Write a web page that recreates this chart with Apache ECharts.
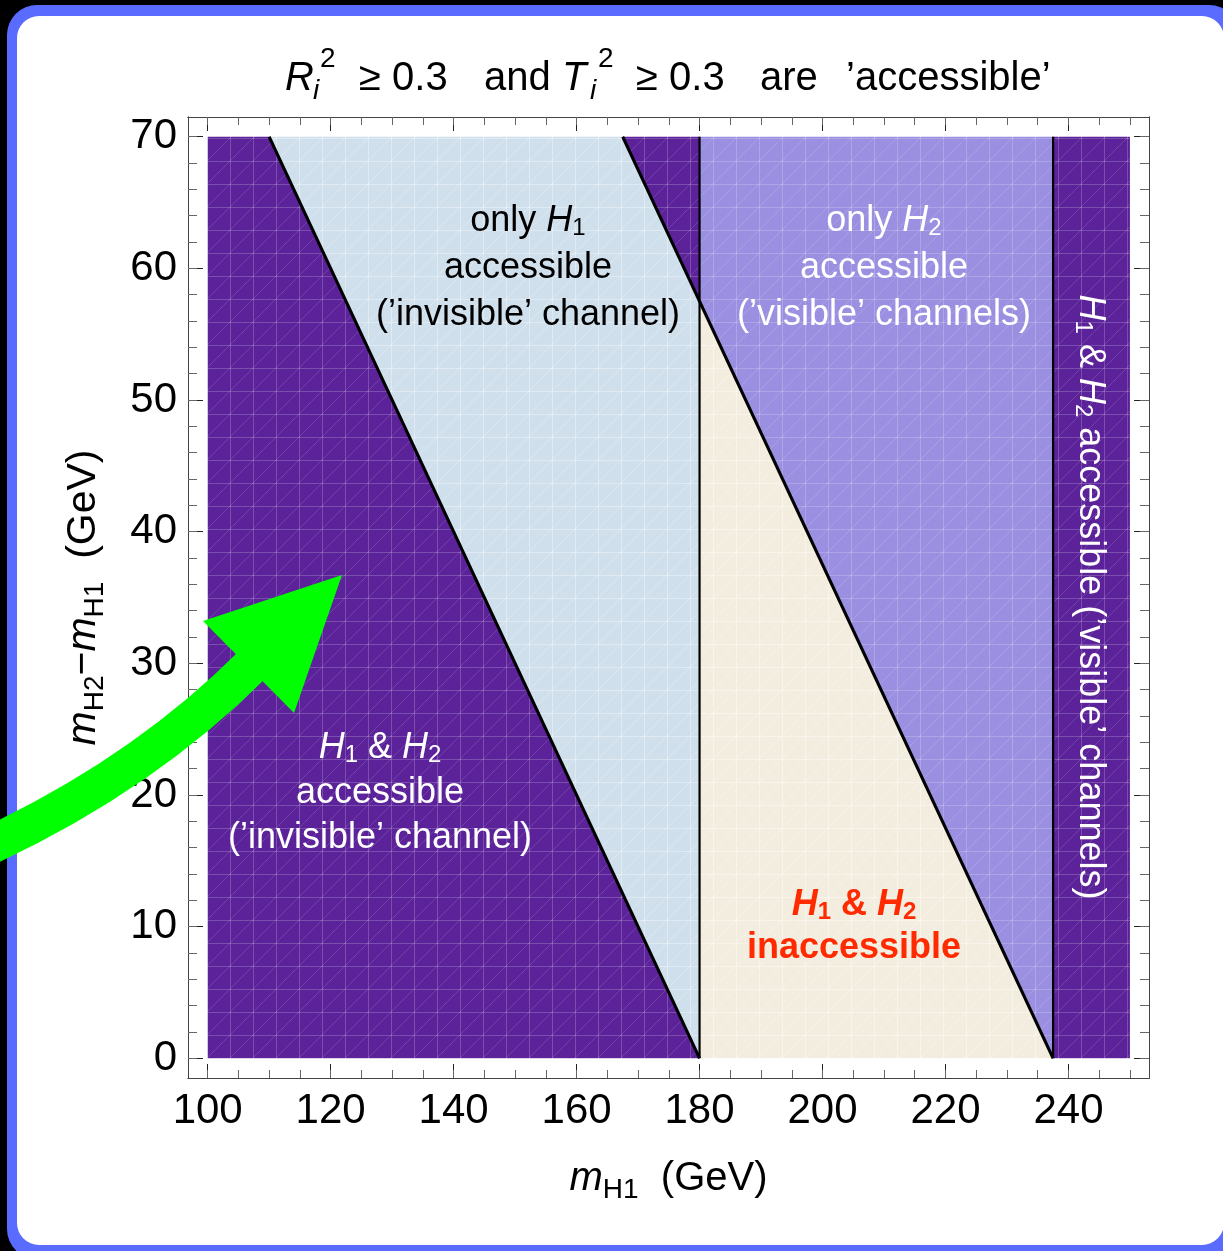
<!DOCTYPE html>
<html><head><meta charset="utf-8">
<script src="https://cdn.jsdelivr.net/npm/echarts@6/dist/echarts.min.js"></script>
<style>html,body{margin:0;padding:0;background:#000;}#c{width:1223px;height:1251px;}</style>
</head><body><div id="c"></div>
<script>
// ---------- data ----------
const xMajorTicks = [100, 120, 140, 160, 180, 200, 220, 240];
const xMinorTicks = [100, 105, 110, 115, 120, 125, 130, 135, 140, 145, 150, 155, 160, 165, 170, 175, 180, 185, 190, 195, 200, 205, 210, 215, 220, 225, 230, 235, 240, 245, 250];
const yMajorTicks = [0, 10, 20, 30, 40, 50, 60, 70];
const yMinorTicks = [0, 2, 4, 6, 8, 10, 12, 14, 16, 18, 20, 22, 24, 26, 28, 30, 32, 34, 36, 38, 40, 42, 44, 46, 48, 50, 52, 54, 56, 58, 60, 62, 64, 66, 68, 70];
const xRange = [96.8, 253.1];
const yRange = [-1.5, 71.5];

// regions (m_H1, m_H2 - m_H1) vertices
const regionBothInvisible = [[100, 0], [180, 0], [110, 70], [100, 70]];
const regionOnlyH1 = [[110, 70], [180, 0], [180, 57.5], [167.5, 70]];
const regionBothWedge = [[167.5, 70], [180, 57.5], [180, 70]];
const regionOnlyH2 = [[180, 57.5], [237.5, 0], [237.5, 70], [180, 70]];
const regionNone = [[180, 0], [237.5, 0], [180, 57.5]];
const regionBothVisible = [[237.5, 0], [250, 0], [250, 70], [237.5, 70]];

// boundary curves
const boundaryLow = [[110, 70], [180, 0]];
const boundaryHigh = [[167.5, 70], [237.5, 0]];
const edgeH1 = [[180, 0], [180, 70]];
const edgeH2 = [[237.5, 0], [237.5, 70]];

// ---------- styling ----------
const FONT = '"Liberation Sans", Arial, Helvetica, sans-serif';
const C_DARK = '#5b2299', C_LBLUE = '#cfdfeb', C_LPURP = '#9a8fe1', C_CREAM = '#f3eddf';

function mesh(base, line, diag) {
  const st = 23;
  const c = document.createElement('canvas');
  c.width = st; c.height = st;
  const g = c.getContext('2d');
  g.fillStyle = base; g.fillRect(0, 0, st, st);
  g.lineWidth = 1;
  g.strokeStyle = line;
  g.beginPath();
  g.moveTo(0.5, 0); g.lineTo(0.5, st);
  g.moveTo(0, 0.5); g.lineTo(st, 0.5);
  g.stroke();
  g.strokeStyle = diag;
  g.beginPath();
  g.moveTo(0, st); g.lineTo(st, 0);
  g.stroke();
  return { image: c, repeat: 'repeat' };
}

function regionSeries(verts, fill) {
  return {
    type: 'custom', silent: true, z: 2,
    data: verts,
    renderItem: function (params, api) {
      if (params.dataIndex !== 0) return null;
      return { type: 'polygon', shape: { points: verts.map(p => api.coord(p)) }, style: { fill: fill } };
    }
  };
}
function lineSeries(pts, w) {
  return { type: 'line', data: pts, symbol: 'none', silent: true, z: 4, animation: false,
    lineStyle: { color: '#000', width: w } };
}

function xAx(pos, ticks, len, col, label) {
  const a = {
    type: 'value', position: pos, min: xRange[0], max: xRange[1],
    axisLine: { show: true, onZero: false, lineStyle: { color: '#444', width: 1 } },
    axisTick: { show: true, inside: true, length: len, customValues: ticks, lineStyle: { color: col, width: 1 } },
    axisLabel: { show: false }, splitLine: { show: false }
  };
  if (label) {
    a.axisLabel = { show: true, customValues: ticks, margin: 12, fontSize: 42, lineHeight: 42, fontFamily: FONT, color: '#000' };
    a.name = '{i|m}{s|H1}{n|  (GeV)}';
    a.nameLocation = 'middle';
    a.nameGap = 76;
    a.nameTextStyle = { rich: {
      i: { fontFamily: FONT, fontSize: 40, lineHeight: 50, fontStyle: 'italic', color: '#000', verticalAlign: 'middle' },
      s: { fontFamily: FONT, fontSize: 28, lineHeight: 28, padding: [22, 0, 0, 0], color: '#000', verticalAlign: 'middle' },
      n: { fontFamily: FONT, fontSize: 40, lineHeight: 50, color: '#000', verticalAlign: 'middle' } } };
  }
  return a;
}
function yAx(pos, ticks, len, col, label) {
  const a = {
    type: 'value', position: pos, min: yRange[0], max: yRange[1],
    axisLine: { show: true, onZero: false, lineStyle: { color: '#444', width: 1 } },
    axisTick: { show: true, inside: true, length: len, customValues: ticks, lineStyle: { color: col, width: 1 } },
    axisLabel: { show: false }, splitLine: { show: false }
  };
  if (label) {
    a.axisLabel = { show: true, customValues: ticks, margin: 11, fontSize: 42, lineHeight: 42, fontFamily: FONT, color: '#000' };
    a.name = '{i|m}{s|H2}{n|−}{i|m}{s|H1}{n|  (GeV)}';
    a.nameLocation = 'middle';
    a.nameGap = 79;
    a.nameTextStyle = { rich: {
      i: { fontFamily: FONT, fontSize: 41, lineHeight: 50, fontStyle: 'italic', color: '#000', verticalAlign: 'middle' },
      s: { fontFamily: FONT, fontSize: 28, lineHeight: 28, padding: [22, 0, 0, 0], color: '#000', verticalAlign: 'middle' },
      n: { fontFamily: FONT, fontSize: 41, lineHeight: 50, color: '#000', verticalAlign: 'middle' } } };
  }
  return a;
}

function richSet(color, size, sub, pad, lh, bold) {
  const fw = bold ? 'bold' : 'normal';
  return {
    n: { fontFamily: FONT, fontSize: size, lineHeight: lh, fill: color, color: color, fontWeight: fw, verticalAlign: 'middle' },
    i: { fontFamily: FONT, fontSize: size, lineHeight: lh, fill: color, color: color, fontWeight: fw, fontStyle: 'italic', verticalAlign: 'middle' },
    s: { fontFamily: FONT, fontSize: sub, lineHeight: sub, fill: color, color: color, fontWeight: fw, padding: [pad, 0, 0, 0], verticalAlign: 'middle' }
  };
}
function label(x, y, text, color, lh, bold, rot) {
  return { type: 'text', x: x, y: y, z: 50, rotation: rot || 0,
    style: { text: text, rich: richSet(color, 36, 24, 14, lh, bold), textAlign: 'center', verticalAlign: 'middle', fill: color } };
}

// ---------- title laid out in runs ----------
const TS = 40, SS = 28, TBASE = 93, SUPBASE = 69, SUBBASE = 101;
const titleRuns = [
  { x: 285, t: 'R', it: true },
  { x: 320, sup: '2', sx: 313, sub: 'i' },
  { x: 359, t: '≥ 0.3' },
  { x: 484, t: 'and' },
  { x: 562, t: 'T', it: true },
  { x: 598, sup: '2', sx: 590, sub: 'i' },
  { x: 636, t: '≥ 0.3' },
  { x: 760, t: 'are' },
  { x: 846, t: '’accessible’' }
];
function tEl(x, base, size, text, it) {
  return { type: 'text', x: x, y: base - 0.35 * size, z: 50,
    style: { text: text, fontFamily: FONT, fontSize: size, fontStyle: it ? 'italic' : 'normal', fill: '#000', textAlign: 'left', verticalAlign: 'middle' } };
}
function titleElements() {
  const els = [];
  titleRuns.forEach(r => {
    if (r.sup) {
      els.push(tEl(r.x, SUPBASE, SS, r.sup, false));
      els.push(tEl(r.sx, SUBBASE, SS, r.sub, true));
    } else {
      els.push(tEl(r.x, TBASE, TS, r.t, r.it));
    }
  });
  return els;
}

const graphics = [
  { type: 'rect', z: -100, shape: { x: 7, y: 5, width: 1232, height: 1254, r: 30 }, style: { fill: '#5a6bff' } },
  { type: 'rect', z: -99, shape: { x: 17, y: 16, width: 1207, height: 1229, r: 22 }, style: { fill: '#ffffff' } },
  ...titleElements(),
  label(528, 268, '{n|only }{i|H}{s|1}\n{n|accessible}\n{n|(’invisible’ channel)}', '#000', 47),
  label(884, 268, '{n|only }{i|H}{s|2}\n{n|accessible}\n{n|(’visible’ channels)}', '#fff', 47),
  label(380, 793, '{i|H}{s|1}{n| & }{i|H}{s|2}\n{n|accessible}\n{n|(’invisible’ channel)}', '#fff', 45),
  label(854, 927, '{i|H}{s|1}{n| & }{i|H}{s|2}\n{n|inaccessible}', '#ff2a00', 43, true),
  label(1090, 597, '{i|H}{s|1}{n| & }{i|H}{s|2}{n| accessible (’visible’ channels)}', '#fff', 47, false, -Math.PI / 2),
  // green annotation arrow
  { type: 'bezierCurve', z: 100, shape: { x1: -20, y1: 850, cpx1: 140, cpy1: 777, x2: 252, y2: 665 }, style: { stroke: '#00ff00', lineWidth: 38, fill: null } },
  { type: 'polygon', z: 100, shape: { points: [[342, 575], [203, 621], [294, 713]] }, style: { fill: '#00ff00' } }
];

const chart = echarts.init(document.getElementById('c'), null, { width: 1223, height: 1251 });
chart.setOption({
  animation: false,
  backgroundColor: '#000',
  grid: { left: 188, top: 117, width: 961, height: 961, containLabel: false },
  xAxis: [xAx('bottom', xMajorTicks, 14, '#222', true), xAx('bottom', xMinorTicks, 8, '#666', false),
          xAx('top', xMajorTicks, 14, '#222', false), xAx('top', xMinorTicks, 8, '#666', false)],
  yAxis: [yAx('left', yMajorTicks, 15, '#222', true), yAx('left', yMinorTicks, 9, '#666', false),
          yAx('right', yMajorTicks, 15, '#222', false), yAx('right', yMinorTicks, 9, '#666', false)],
  series: [
    regionSeries(regionBothInvisible, mesh(C_DARK, 'rgba(255,255,255,0.2)', 'rgba(255,255,255,0.14)')),
    regionSeries(regionOnlyH1, mesh(C_LBLUE, 'rgba(255,255,255,0.35)', 'rgba(255,255,255,0.3)')),
    regionSeries(regionBothWedge, mesh(C_DARK, 'rgba(255,255,255,0.2)', 'rgba(255,255,255,0.14)')),
    regionSeries(regionOnlyH2, mesh(C_LPURP, 'rgba(255,255,255,0.2)', 'rgba(255,255,255,0.16)')),
    regionSeries(regionNone, mesh(C_CREAM, 'rgba(255,255,255,0.4)', 'rgba(255,255,255,0.35)')),
    regionSeries(regionBothVisible, mesh(C_DARK, 'rgba(255,255,255,0.2)', 'rgba(255,255,255,0.14)')),
    lineSeries(boundaryLow, 3), lineSeries(boundaryHigh, 3),
    lineSeries(edgeH1, 2.2), lineSeries(edgeH2, 2.2)
  ],
  graphic: { elements: graphics }
});
</script></body></html>
